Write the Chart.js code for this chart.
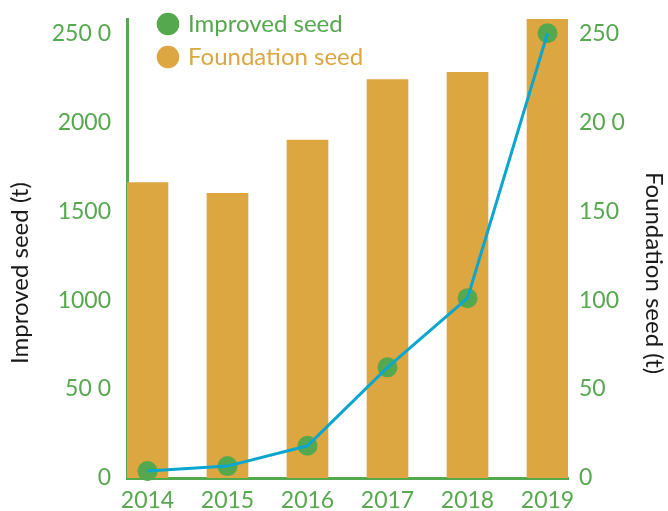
<!DOCTYPE html>
<html>
<head>
<meta charset="utf-8">
<script src="https://cdn.jsdelivr.net/npm/chart.js@4.4.1/dist/chart.umd.min.js"></script>
<style>
  html, body { margin: 0; padding: 0; background: #fff; }
  #wrap { width: 668px; height: 511px; }
</style>
</head>
<body>
<div id="wrap"><canvas id="seedChart"></canvas></div>
<script>
const years = ['2014', '2015', '2016', '2017', '2018', '2019'];
const improvedSeed = [39, 67, 181, 622, 1011, 2500];     // t, left axis
const foundationSeed = [166, 160, 190, 224, 228, 258];   // t, right axis

const improvedTicks = [0, 500, 1000, 1500, 2000, 2500];
const improvedTickLabels = ['0', '50 0', '1000', '1500', '2000', '250 0'];
const foundationTicks = [0, 50, 100, 150, 200, 250];
const foundationTickLabels = ['0', '50', '100', '150', '20 0', '250'];

const green = '#56a84e';
const gold = '#dca640';
const blue = '#0aa6cf';

Chart.defaults.font.family = "'Lato', sans-serif";
Chart.defaults.font.size = 23;

const asPoints = values => values.map((v, i) => ({ x: i, y: v }));

// titles sit a bit below the middle of the axis in the original
const titleShift = '        ';

// legend floats in the top-left corner of the plot
const legendPlacement = {
  id: 'legendPlacement',
  afterLayout(chart) {
    const area = chart.chartArea;
    chart.legend.left = area.left + 24;
    chart.legend.top = area.top - 16;
  }
};

// fixed axis sizes so the plot area lands where the original has it
const fixBox = (w, h) => s => {
  if (w != null) s.width = w;
  if (h != null) s.height = h;
  s.paddingTop = 0;
  s.paddingBottom = 0;
};

new Chart(document.getElementById('seedChart'), {
  type: 'bar',
  data: {
    datasets: [
      {
        type: 'line',
        label: 'Improved seed line',
        data: asPoints(improvedSeed),
        yAxisID: 'y',
        borderColor: blue,
        borderWidth: 3,
        pointRadius: 0,
        tension: 0,
        order: 1
      },
      {
        type: 'line',
        label: 'Improved seed',
        data: asPoints(improvedSeed),
        yAxisID: 'y',
        showLine: false,
        pointRadius: 10,
        pointBackgroundColor: green,
        pointBorderWidth: 0,
        clip: false,
        order: 2
      },
      {
        type: 'bar',
        label: 'Foundation seed',
        data: asPoints(foundationSeed),
        yAxisID: 'y1',
        backgroundColor: gold,
        barThickness: 41,
        order: 3
      }
    ]
  },
  options: {
    responsive: true,
    maintainAspectRatio: false,
    animation: false,
    events: [],
    layout: { padding: { top: 19, left: 0, right: 0, bottom: 0 } },
    plugins: {
      tooltip: { enabled: false },
      legend: {
        position: 'chartArea',
        align: 'start',
        labels: {
          usePointStyle: true,
          boxWidth: 16,
          boxHeight: 16,
          padding: 9,
          font: { size: 24 },
          generateLabels: () => [
            { text: 'Improved seed', fillStyle: green, strokeStyle: green, lineWidth: 0, fontColor: green, pointStyle: 'circle', hidden: false, datasetIndex: 1 },
            { text: 'Foundation seed', fillStyle: gold, strokeStyle: gold, lineWidth: 0, fontColor: gold, pointStyle: 'circle', hidden: false, datasetIndex: 2 }
          ]
        }
      }
    },
    scales: {
      x: {
        type: 'linear',
        min: -0.256,
        max: 5.256,
        offset: false,
        z: 1,
        grid: { display: false, drawTicks: false },
        border: { display: true, color: green, width: 3 },
        afterBuildTicks: s => { s.ticks = years.map((_, i) => ({ value: i })); },
        afterFit: fixBox(null, 33),
        ticks: { color: green, padding: 9, autoSkip: false, maxRotation: 0, callback: v => years[v] }
      },
      y: {
        type: 'linear',
        position: 'left',
        min: 0,
        max: 2580,
        z: 1,
        grid: { display: false, drawTicks: false },
        border: { display: true, color: green, width: 3 },
        afterBuildTicks: s => { s.ticks = improvedTicks.map(v => ({ value: v })); },
        afterFit: fixBox(127, null),
        ticks: { color: green, padding: 16, callback: (v, i) => improvedTickLabels[i] },
        title: { display: true, text: 'Improved seed (t)' + titleShift, color: '#1a1a1a', font: { size: 24 }, padding: { top: 6 } }
      },
      y1: {
        type: 'linear',
        position: 'right',
        min: 0,
        max: 258,
        grid: { display: false, drawTicks: false },
        border: { display: false },
        afterBuildTicks: s => { s.ticks = foundationTicks.map(v => ({ value: v })); },
        afterFit: fixBox(100, null),
        ticks: { color: green, padding: 11, callback: (v, i) => foundationTickLabels[i] },
        title: { display: true, text: titleShift + 'Foundation seed (t)', color: '#1a1a1a', font: { size: 24 }, padding: { top: 0 } }
      }
    }
  },
  plugins: [legendPlacement]
});
</script>
</body>
</html>
